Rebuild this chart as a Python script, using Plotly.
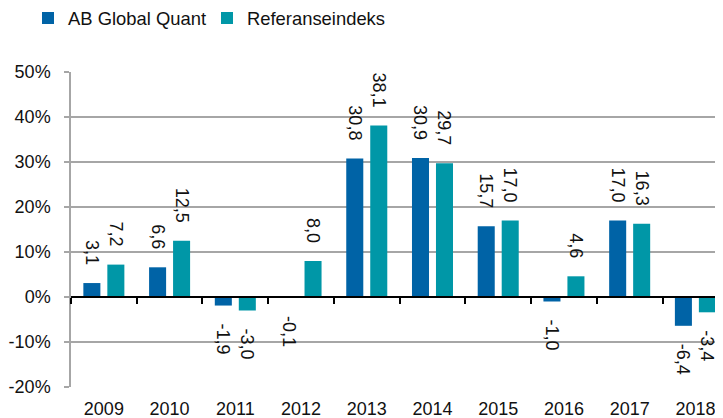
import plotly.graph_objects as go

years = ["2009", "2010", "2011", "2012", "2013", "2014", "2015", "2016", "2017", "2018"]
ab_global_quant = [3.1, 6.6, -1.9, -0.1, 30.8, 30.9, 15.7, -1.0, 17.0, -6.4]
referanseindeks = [7.2, 12.5, -3.0, 8.0, 38.1, 29.7, 17.0, 4.6, 16.3, -3.4]
y_tickvals = [-20, -10, 0, 10, 20, 30, 40, 50]
y_ticktext = ["-20%", "-10%", "0%", "10%", "20%", "30%", "40%", "50%"]

FONT = "Liberation Sans, Arial, sans-serif"
BLUE = "#0063A6"
TEAL = "#0097A7"
GRID = "#A6A6A6"
PAD = "\u00a0" * 3

def lab(vals):
    out = []
    for v in vals:
        s = f"{v:.1f}".replace(".", ",")
        out.append(s + PAD if v >= 0 else PAD + s)
    return out

fig = go.Figure()
for name, vals, col in [("AB Global Quant", ab_global_quant, BLUE),
                        ("Referanseindeks", referanseindeks, TEAL)]:
    fig.add_trace(go.Bar(
        x=years, y=vals, name=name, marker=dict(color=col, line=dict(width=0)),
        text=lab(vals), textposition="outside", textangle=90,
        textfont=dict(family=FONT, size=18, color="#111"),
        constraintext="none", cliponaxis=False,
    ))
# helper trace for the axis drawn at zero
fig.add_trace(go.Scatter(x=[], y=[], xaxis="x2", showlegend=False, hoverinfo="skip"))

W, H = 715, 410  # page body has an 8px margin
ymin, ymax = -20, 50
xr = [-0.5, 9.42]
fig.update_layout(
    width=W, height=H,
    margin=dict(l=63, r=0, t=64, b=31, autoexpand=False),
    plot_bgcolor="white", paper_bgcolor="white",
    barmode="group", bargap=0.27, bargroupgap=0.29,
    font=dict(family=FONT, size=18, color="#111"),
    showlegend=True,
    legend=dict(orientation="h", xref="container", yref="container",
                x=20 / W, y=1 - 10 / H, xanchor="left", yanchor="middle",
                font=dict(family=FONT, size=18.4, color="#111"),
                entrywidth=134, entrywidthmode="pixels",
                bgcolor="rgba(0,0,0,0)"),
    xaxis=dict(type="category", range=xr, showgrid=False, showline=False,
               ticks="", tickfont=dict(size=18), ticklabelstandoff=9,
               automargin=False),
    xaxis2=dict(overlaying="x", anchor="free", position=(0 - ymin) / (ymax - ymin),
                type="linear", range=xr, tick0=-0.5, dtick=1,
                showline=True, linecolor="black", linewidth=2,
                ticks="outside", ticklen=6, tickwidth=2, tickcolor="black",
                showticklabels=False, showgrid=False, zeroline=False),
    yaxis=dict(range=[ymin, ymax], tickvals=y_tickvals, ticktext=y_ticktext,
               showgrid=True, gridcolor=GRID, gridwidth=1.5,
               zeroline=False, showline=True, linecolor=GRID, linewidth=1.5,
               ticks="outside", ticklen=5, tickcolor=GRID, tickwidth=1.5,
               tickfont=dict(size=18), ticklabelstandoff=10, automargin=False),
)
fig.write_html("out.html")
